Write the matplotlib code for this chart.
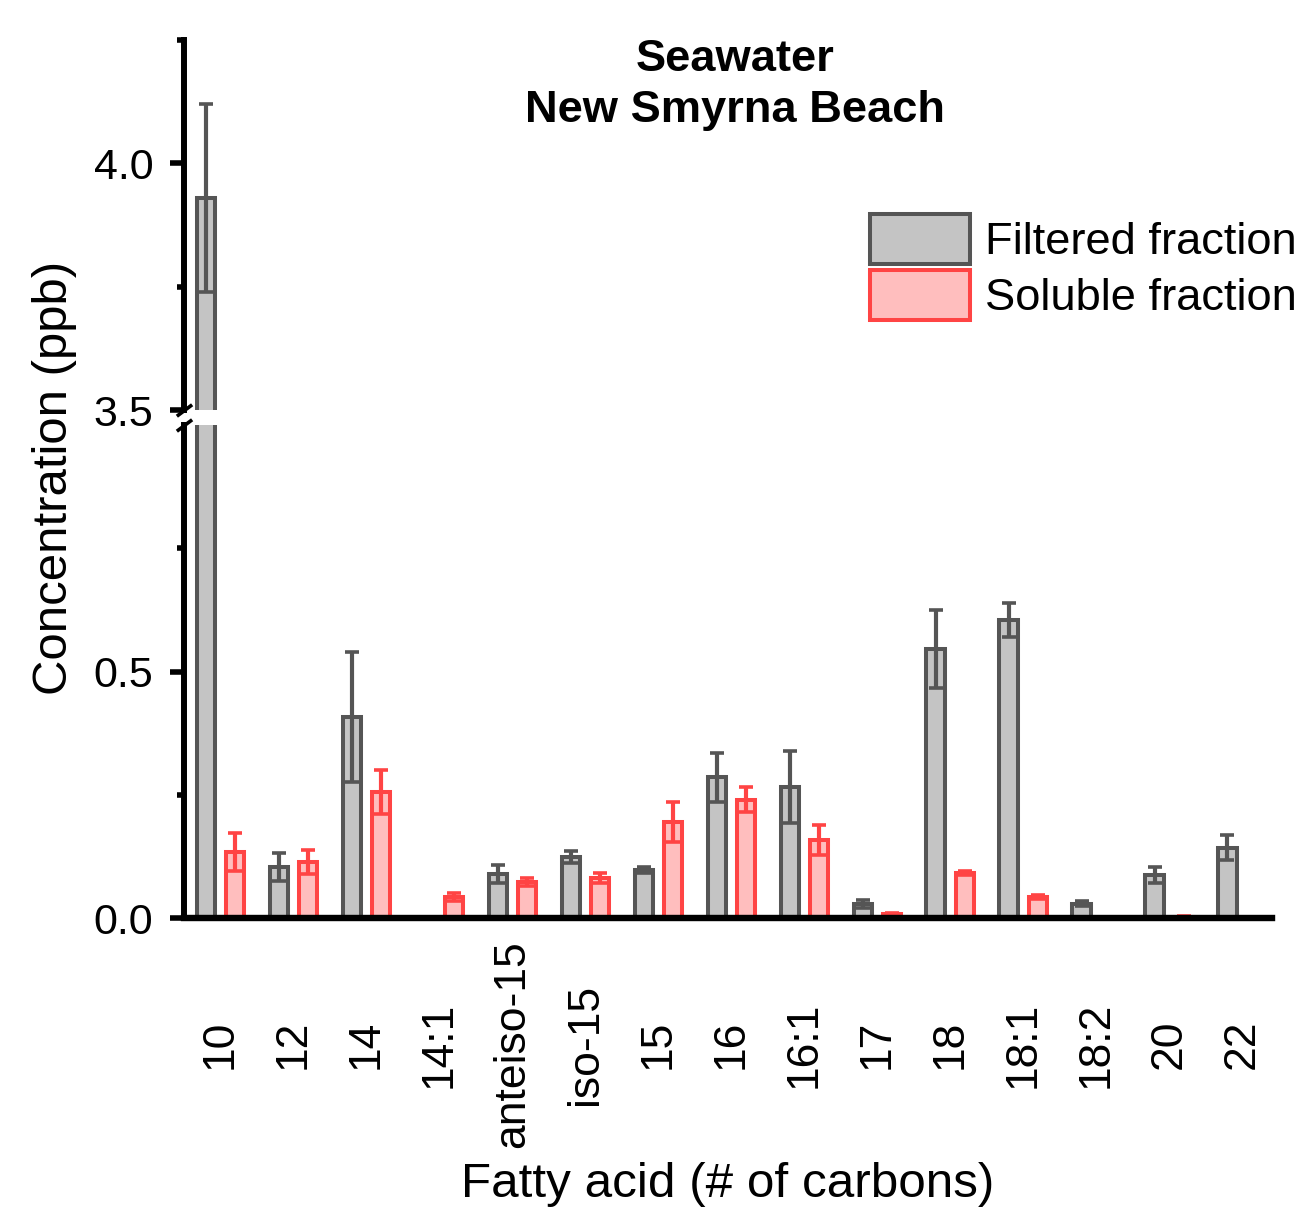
import numpy as np
import matplotlib
matplotlib.use('Agg')
import matplotlib.pyplot as plt
from matplotlib.patches import Patch

plt.rcParams['font.family'] = ['Liberation Sans', 'DejaVu Sans']

# ---------------- data ----------------
categories = ['10', '12', '14', '14:1', 'anteiso-15', 'iso-15', '15', '16',
              '16:1', '17', '18', '18:1', '18:2', '20', '22']
filtered = [3.93, 0.104, 0.407, np.nan, 0.089, 0.124, 0.098, 0.285,
            0.265, 0.028, 0.545, 0.604, 0.029, 0.087, 0.143]
filtered_err = [0.19, 0.028, 0.132, np.nan, 0.018, 0.012, 0.006, 0.049,
                0.073, 0.008, 0.079, 0.034, 0.005, 0.017, 0.025]
soluble = [0.134, 0.114, 0.256, 0.043, 0.073, 0.081, 0.195, 0.240,
           0.158, 0.008, 0.091, 0.043, np.nan, 0.003, np.nan]
soluble_err = [0.039, 0.024, 0.045, 0.008, 0.008, 0.010, 0.041, 0.026,
               0.030, 0.002, 0.004, 0.004, np.nan, 0.001, np.nan]

series_names = ['Filtered fraction', 'Soluble fraction']
lower_ticks = [0.0, 0.5]
upper_ticks = [3.5, 4.0]

# ---------------- style ----------------
F_FACE, F_EDGE = '#C4C4C4', '#555555'
S_FACE, S_EDGE = '#FFBEBE', '#FF4444'
EDGE_LW = 2.9

W, H = 1302, 1210
fig = plt.figure(figsize=(W / 100, H / 100), dpi=100)
L = 184 / W
AW = (1272 - 184) / W
ax_lo = fig.add_axes([L, (H - 918) / H, AW, (918 - 425) / H])
ax_hi = fig.add_axes([L, (H - 410) / H, AW, (410 - 40) / H], sharex=ax_lo)

x = np.arange(len(categories))
off, bw = 0.2, 0.25


def draw(ax):
    for vals, errs, dx, fc, ec in [(filtered, filtered_err, -off, F_FACE, F_EDGE),
                                   (soluble, soluble_err, off, S_FACE, S_EDGE)]:
        v = np.array(vals, dtype=float)
        e = np.array(errs, dtype=float)
        m = ~np.isnan(v)
        ax.bar(x[m] + dx, v[m], bw, color=fc, edgecolor=ec, linewidth=EDGE_LW, zorder=2)
        ax.errorbar(x[m] + dx, v[m], yerr=e[m], fmt='none', ecolor=ec,
                    elinewidth=3.0, capsize=4.7, capthick=2.6, zorder=3)


draw(ax_lo)
draw(ax_hi)

ax_lo.set_xlim(-0.5, 14.41)
ax_lo.set_ylim(0, 1.0)
ax_hi.set_ylim(3.5, 4.25)

for ax in (ax_lo, ax_hi):
    ax.spines['right'].set_visible(False)
    ax.spines['top'].set_visible(False)
    ax.spines['left'].set_linewidth(4.3)
    ax.spines['left'].set_zorder(5)
    ax.tick_params(axis='y', which='major', length=10, width=4.0, labelsize=31,
                   pad=12, direction='out')
    ax.tick_params(axis='y', which='minor', length=5, width=4.0, direction='out')

ax_hi.spines['bottom'].set_visible(False)
ax_hi.tick_params(axis='x', bottom=False, labelbottom=False)
ax_lo.spines['bottom'].set_linewidth(4.6)
ax_lo.spines['bottom'].set_zorder(5)

ax_lo.set_yticks(lower_ticks)
ax_lo.set_yticklabels([f'{t:.1f}' for t in lower_ticks])
ax_lo.set_yticks([0.25, 0.75], minor=True)
ax_hi.set_yticks(upper_ticks)
ax_hi.set_yticklabels([f'{t:.1f}' for t in upper_ticks])
ax_hi.set_yticks([3.75, 4.25], minor=True)

ax_lo.set_xticks(x)
ax_lo.set_xticklabels(categories, rotation=90, fontsize=32)
ax_lo.tick_params(axis='x', length=0, pad=91)
for lab in ax_lo.get_xticklabels():
    lab.set_va('center')

# break marks
kw = dict(marker=[(-1, -0.75), (1, 0.75)], markersize=11, linestyle='none',
          color='k', mec='k', mew=2.6, clip_on=False, zorder=6)
ax_hi.plot([0], [0], transform=ax_hi.transAxes, **kw)
ax_lo.plot([0], [1], transform=ax_lo.transAxes, **kw)

# legend
handles = [Patch(facecolor=F_FACE, edgecolor=F_EDGE, linewidth=EDGE_LW),
           Patch(facecolor=S_FACE, edgecolor=S_EDGE, linewidth=EDGE_LW)]
fig.legend(handles, series_names, loc='upper left',
           bbox_to_anchor=(870 / W, 1 - 214 / H), frameon=False, fontsize=32.6,
           handlelength=2.2, handleheight=1.32, handletextpad=0.33,
           labelspacing=0.13, borderpad=0, borderaxespad=0)

fig.text(735 / W, 1 - 39 / H, 'Seawater\nNew Smyrna Beach', ha='center', va='top',
         fontsize=32.6, fontweight='bold', linespacing=1.3)
fig.text(55 / W, 1 - 478 / H, 'Concentration (ppb)', rotation=90, ha='center',
         va='center', fontsize=35.4)
fig.text(728 / W, 1 - 1197 / H, 'Fatty acid (# of carbons)', ha='center',
         va='baseline', fontsize=35.6)

fig.savefig('out.png', dpi=100)
